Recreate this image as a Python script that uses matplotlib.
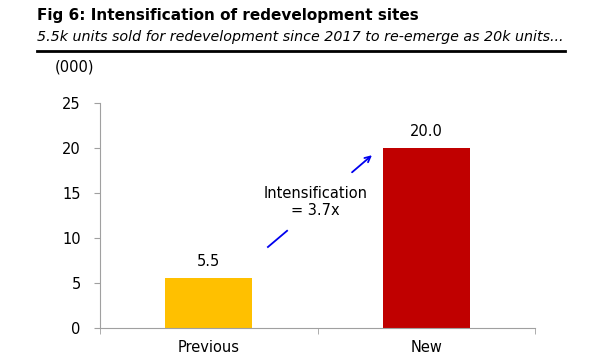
import numpy as np
import matplotlib.pyplot as plt

categories = ['Previous', 'New']
values = [5.5, 20.0]
colors = ['#FFC000', '#C00000']
yticks = [0, 5, 10, 15, 20, 25]

fig = plt.figure(figsize=(6, 3.6), dpi=100)
ax = fig.add_axes([0.1667, 0.0889, 0.725, 0.625])

x = np.arange(len(categories))
ax.bar(x, values, width=0.4, color=colors)
for xi, v in zip(x, values):
    ax.text(xi, v + 1.0, f'{v:.1f}', ha='center', va='bottom', fontsize=10.5)

ax.set_xlim(-0.5, 1.5)
ax.set_ylim(0, 25)
ax.set_yticks(yticks)
ax.set_xticks(x)
ax.set_xticklabels(categories, fontsize=10.5)
ax.set_xticks([-0.5, 0.5, 1.5], minor=True)
ax.tick_params(axis='x', which='major', length=0, pad=9)
ax.tick_params(axis='x', which='minor', length=4, color='#a0a0a0')
ax.tick_params(axis='y', length=4, color='#a0a0a0', labelsize=10.5, pad=10)
for s in ['top', 'right']:
    ax.spines[s].set_visible(False)
for s in ['left', 'bottom']:
    ax.spines[s].set_color('#a0a0a0')

# annotation arrow
ax.plot([0.272, 0.36], [9.0, 10.8], color='#0000ee', lw=1.3)
ax.annotate('', xy=(0.76, 19.4), xytext=(0.649, 17.1),
            arrowprops=dict(arrowstyle='->', color='#0000ee', lw=1.3))
ax.text(0.489, 14.0, 'Intensification\n= 3.7x', ha='center', va='center',
        fontsize=10.5, linespacing=1.2)

fig.text(0.062, 0.958, 'Fig 6: Intensification of redevelopment sites',
         fontsize=11, fontweight='bold', va='center')
fig.text(0.062, 0.897, '5.5k units sold for redevelopment since 2017 to re-emerge as 20k units...',
         fontsize=10.3, style='italic', va='center')
fig.add_artist(plt.Line2D([0.062, 0.942], [0.858, 0.858], color='black', lw=2))
fig.text(0.092, 0.813, '(000)', fontsize=10.5, va='center')

fig.savefig('out.png', dpi=100)
